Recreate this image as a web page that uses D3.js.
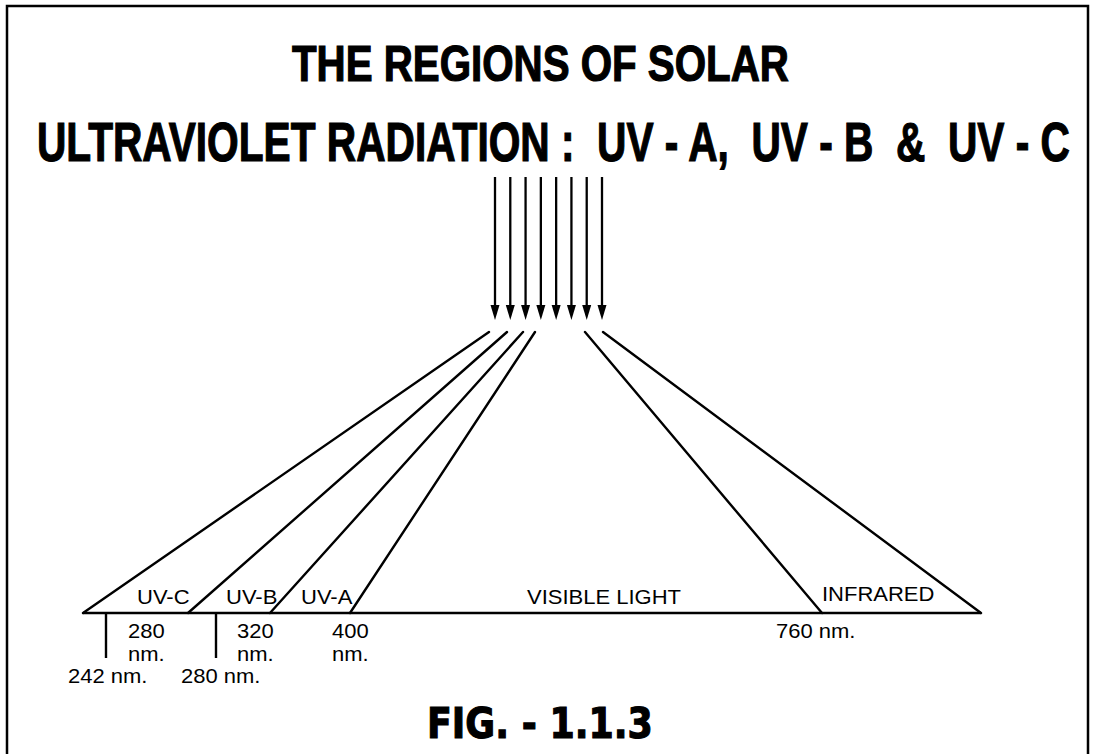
<!DOCTYPE html>
<html><head><meta charset="utf-8">
<script src="https://cdn.jsdelivr.net/npm/d3@7"></script>
<style>body{margin:0;background:#fff}svg{display:block}</style></head>
<body>
<script>
// ---- data ----
const titleLines = ["THE REGIONS OF SOLAR", "ULTRAVIOLET RADIATION :  UV - A,  UV - B  &  UV - C"];
const figLabel = "FIG. - 1.1.3";
const bands = ["UV-C", "UV-B", "UV-A", "VISIBLE LIGHT", "INFRARED"];
const bandEdges = ["start", "280", "320", "400", "760", "end"];
const boundaryLabels = [
  {edge: "280", lines: ["280", "nm."]},
  {edge: "320", lines: ["320", "nm."]},
  {edge: "400", lines: ["400", "nm."]},
  {edge: "760", lines: ["760 nm."]}
];
const lowerMarks = ["242 nm.", "280 nm."];
const rays = [1, 2, 3, 4, 5, 6, 7, 8];

// ---- layout ----
const W = 1093, H = 754;
const svg = d3.select("body").append("svg").attr("width", W).attr("height", H);
const ink = "#000";

// frame (no bottom edge)
svg.append("path").attr("d", `M7,${H} L7,6 L1088,6 L1088,${H}`)
  .attr("fill", "none").attr("stroke", ink).attr("stroke-width", 2.5);

// fit text horizontally to a given width via scale transform
function fitText(sel, x, y, width) {
  const natural = sel.node().getComputedTextLength();
  sel.attr("transform", `translate(${x},${y}) scale(${width / natural},1)`);
}

// title
const titleSpec = [
  {x: 292, y: 81, size: 50, len: 497},
  {x: 37, y: 161, size: 55, len: 1033}
];
titleLines.forEach((t, i) => {
  const s = titleSpec[i];
  const el = svg.append("text")
    .attr("font-family", "'Liberation Sans Narrow', 'Liberation Sans', Arial, sans-serif")
    .attr("font-weight", "bold").attr("font-size", s.size)
    .attr("stroke", ink).attr("stroke-width", 1.2).attr("fill", ink)
    .style("white-space", "pre").text(t);
  fitText(el, s.x, s.y, s.len);
});

// rays (arrows)
const rayX = d3.scalePoint().domain(rays).range([495, 602]);
const rayTop = 177, rayTip = 320, headLen = 15, headHalf = 4.5;
const rg = svg.append("g");
rg.selectAll("line").data(rays).join("line")
  .attr("x1", d => rayX(d)).attr("x2", d => rayX(d))
  .attr("y1", rayTop).attr("y2", rayTip - headLen + 2)
  .attr("stroke", ink).attr("stroke-width", 2.3);
rg.selectAll("path").data(rays).join("path")
  .attr("d", d => `M${rayX(d) - headHalf},${rayTip - headLen} L${rayX(d) + headHalf},${rayTip - headLen} L${rayX(d)},${rayTip} Z`)
  .attr("fill", ink);

// spectrum baseline & fan
const edgeX = d3.scaleOrdinal().domain(bandEdges).range([83, 188, 270, 350, 822, 981]);
const fanTopX = d3.scaleOrdinal().domain(bandEdges).range([489, 507, 523, 535, 585, 603]);
const baseY = 613, fanTopY = 332;

svg.append("line").attr("x1", edgeX("start")).attr("x2", edgeX("end"))
  .attr("y1", baseY).attr("y2", baseY).attr("stroke", ink).attr("stroke-width", 2.5);

svg.append("g").selectAll("line").data(bandEdges).join("line")
  .attr("x1", d => fanTopX(d)).attr("y1", fanTopY)
  .attr("x2", d => edgeX(d)).attr("y2", baseY)
  .attr("stroke", ink).attr("stroke-width", 2.4).attr("stroke-linecap", "round");

// label helper (slightly widened Arial-like text)
const sx = 1.1;
function label(g, x, y, t, size) {
  g.append("text").attr("transform", `translate(${x},${y}) scale(${sx},1)`)
    .attr("font-family", "'Liberation Sans', Arial, sans-serif").attr("font-size", size)
    .attr("fill", ink).text(t);
}
const lg = svg.append("g");
const bandLabelPos = d3.scaleOrdinal().domain(bands).range([[137, 604], [226, 604], [301, 604], [527, 604], [822, 601]]);
bands.forEach(b => label(lg, bandLabelPos(b)[0], bandLabelPos(b)[1], b, 20));

const boundaryPos = d3.scaleOrdinal().domain(["280", "320", "400", "760"]).range([128, 237, 332, 776]);
boundaryLabels.forEach(b => b.lines.forEach((t, i) => label(lg, boundaryPos(b.edge), 638 + i * 23, t, 20)));

// lower tick marks
const markX = d3.scaleOrdinal().domain(lowerMarks).range([106, 216]);
const markLabelX = d3.scaleOrdinal().domain(lowerMarks).range([68, 181]);
svg.append("g").selectAll("line").data(lowerMarks).join("line")
  .attr("x1", d => markX(d)).attr("x2", d => markX(d))
  .attr("y1", baseY).attr("y2", 658)
  .attr("stroke", ink).attr("stroke-width", 2.4);
lowerMarks.forEach(m => label(lg, markLabelX(m), 683, m, 20));

// figure label
const fig = svg.append("text")
  .attr("font-family", "'DejaVu Sans', Verdana, sans-serif").attr("font-weight", "bold")
  .attr("font-size", 42)
  .attr("stroke", ink).attr("stroke-width", 1.2).attr("fill", ink)
  .style("white-space", "pre").text(figLabel);
fitText(fig, 427, 738, 226);
</script>
</body></html>
